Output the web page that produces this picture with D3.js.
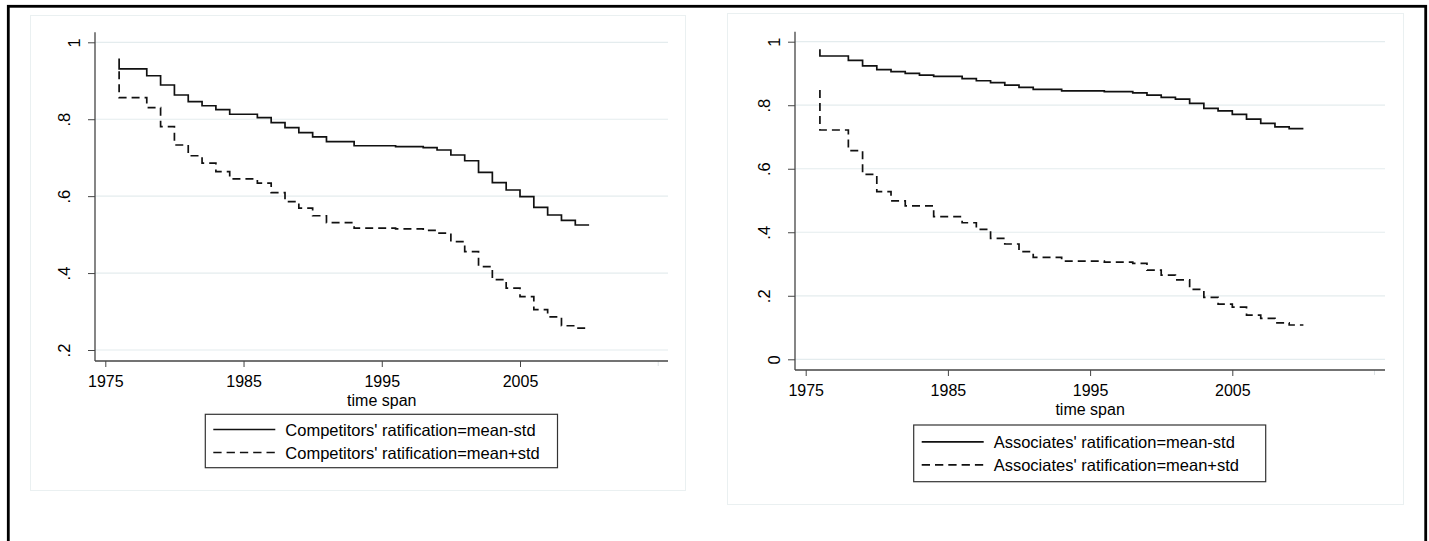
<!DOCTYPE html>
<html><head><meta charset="utf-8">
<script src="https://cdn.jsdelivr.net/npm/d3@7"></script>
<style>body{margin:0;background:#fff} text{font-family:"Liberation Sans",Arial,Helvetica,sans-serif}</style>
</head><body><svg id="c" width="1429" height="541"></svg>
<script>
// ---- data ----
const years = [1976,1976,1978,1979,1980,1981,1982,1983,1984,1986,1987,1988,1989,1990,1991,1993,1996,1998,1999,2000,2001,2002,2003,2004,2005,2006,2007,2008,2009,2010];
const compLow  = [0.958,0.931,0.913,0.889,0.863,0.846,0.835,0.825,0.813,0.804,0.791,0.778,0.765,0.754,0.742,0.731,0.729,0.726,0.720,0.707,0.692,0.662,0.635,0.616,0.599,0.571,0.551,0.537,0.525,0.525];
const compHigh = [0.925,0.856,0.830,0.781,0.733,0.705,0.686,0.664,0.645,0.634,0.609,0.586,0.569,0.549,0.531,0.517,0.515,0.511,0.504,0.482,0.456,0.417,0.383,0.361,0.339,0.305,0.286,0.263,0.257,0.257];
const assocLow = [0.976,0.955,0.941,0.924,0.912,0.906,0.900,0.895,0.891,0.884,0.877,0.871,0.863,0.856,0.850,0.845,0.843,0.839,0.832,0.825,0.819,0.806,0.790,0.782,0.771,0.756,0.743,0.732,0.726,0.726];
const assocHigh= [0.848,0.722,0.657,0.582,0.528,0.499,0.483,0.483,0.449,0.430,0.409,0.381,0.363,0.339,0.321,0.309,0.306,0.302,0.281,0.265,0.250,0.220,0.195,0.174,0.164,0.139,0.129,0.115,0.108,0.108];
const xTicks = [1975,1985,1995,2005];
const xMinorTicks = [2015];
const leftYTicks = [0.2,0.4,0.6,0.8,1];
const rightYTicks = [0,0.2,0.4,0.6,0.8,1];
const xTitle = "time span";
const leftLegend = ["Competitors' ratification=mean-std","Competitors' ratification=mean+std"];
const rightLegend = ["Associates' ratification=mean-std","Associates' ratification=mean+std"];

// ---- layout ----
const svg = d3.select("#c");
const FS = 16.5;
const TFS = 16;
const GRID = "#e4ecee";
const AXC = "#444";

svg.append("rect").attr("x",8.3).attr("y",6.3).attr("width",1417.4).attr("height",600)
  .attr("fill","none").attr("stroke","#000").attr("stroke-width",2.8);

const panels = [
  {box:[30,15,685,490], px:[95,668], py:[32.3,361], xr:[105.3,520], yr:[350,42.3], yd:[0.2,1],
   yTicks:leftYTicks, low:compLow, high:compHigh, legend:leftLegend, lg:{x:205.3,y:414.3,w:352.2,h:53.4},
   lblOff:25.5, titleOff:44.5},
  {box:[727,13,1403,504], px:[795,1385], py:[31.7,370], xr:[805.7,1232.3], yr:[359.3,41.7], yd:[0,1],
   yTicks:rightYTicks, low:assocLow, high:assocHigh, legend:rightLegend, lg:{x:913.7,y:425,w:352,h:56.7},
   lblOff:26, titleOff:45}
];

const fmt = d => d===0 ? "0" : d===1 ? "1" : String(+d.toFixed(1)).replace(/^0\./,".");

panels.forEach(p => {
  const g = svg.append("g");
  g.append("rect").attr("x",p.box[0]+0.5).attr("y",p.box[1]+0.5)
    .attr("width",p.box[2]-p.box[0]).attr("height",p.box[3]-p.box[1])
    .attr("fill","#fff").attr("stroke","#eaf0f1").attr("stroke-width",1);

  const x = d3.scaleLinear().domain([1975,2005]).range(p.xr);
  const y = d3.scaleLinear().domain(p.yd).range(p.yr);

  // gridlines
  g.selectAll(".grid").data(p.yTicks).join("line")
    .attr("x1",p.px[0]).attr("x2",p.px[1])
    .attr("y1",d=>y(d)).attr("y2",d=>y(d))
    .attr("stroke",GRID).attr("stroke-width",1.2);

  // y axis
  const ya = d3.axisLeft(y).tickValues(p.yTicks).tickSize(7).tickPadding(0).tickFormat(fmt);
  const yg = g.append("g").attr("transform",`translate(${p.px[0]},0)`).call(ya);
  yg.select(".domain").remove();
  yg.selectAll(".tick line").attr("stroke",AXC).attr("stroke-width",1);
  yg.selectAll(".tick text")
    .attr("font-size",FS).attr("fill","#000")
    .attr("text-anchor","middle")
    .attr("x",0).attr("y",0).attr("dy",null)
    .attr("transform",d=>`translate(${fmt(d).length>1?-25:-15},0) rotate(-90)`);
  g.append("line").attr("x1",p.px[0]).attr("x2",p.px[0]).attr("y1",p.py[0]).attr("y2",p.py[1])
    .attr("stroke",AXC).attr("stroke-width",1.3);

  // x axis
  const xa = d3.axisBottom(x).tickValues(xTicks).tickSize(6).tickPadding(0).tickFormat(d3.format("d"));
  const xg = g.append("g").attr("transform",`translate(0,${p.py[1]})`).call(xa);
  xg.select(".domain").remove();
  xg.selectAll(".tick line").attr("stroke",AXC).attr("stroke-width",1);
  xg.selectAll(".tick text").attr("font-size",TFS).attr("fill","#000").attr("dy",null).attr("y",p.lblOff);
  g.selectAll(".minor").data(xMinorTicks).join("line")
    .attr("x1",d=>x(d)).attr("x2",d=>x(d)).attr("y1",p.py[1]).attr("y2",p.py[1]+5)
    .attr("stroke","#dde3e5").attr("stroke-width",1);
  g.append("line").attr("x1",p.px[0]).attr("x2",p.px[1]).attr("y1",p.py[1]).attr("y2",p.py[1])
    .attr("stroke",AXC).attr("stroke-width",1.3);
  g.append("text").attr("x",(x(1995))).attr("y",p.py[1]+p.titleOff)
    .attr("text-anchor","middle").attr("font-size",TFS).text(xTitle);

  // curves
  const line = d3.line().x((d,i)=>x(years[i])).y(d=>y(d)).curve(d3.curveStepAfter);
  g.append("path").attr("d",line(p.low)).attr("fill","none").attr("stroke","#111").attr("stroke-width",1.7);
  g.append("path").attr("d",line(p.high)).attr("fill","none").attr("stroke","#111").attr("stroke-width",1.7)
    .attr("stroke-dasharray","8,5");

  // legend
  const L = p.lg;
  g.append("rect").attr("x",L.x).attr("y",L.y).attr("width",L.w).attr("height",L.h)
    .attr("fill","#fff").attr("stroke","#333").attr("stroke-width",1.2);
  const mid = L.y + L.h/2;
  p.legend.forEach((t,i)=>{
    const ry = mid + (i===0?-11.5:11.5);
    g.append("line").attr("x1",L.x+8).attr("x2",L.x+70).attr("y1",ry).attr("y2",ry)
      .attr("stroke","#111").attr("stroke-width",1.7).attr("stroke-dasharray",i===0?null:"8.3,5");
    g.append("text").attr("x",L.x+80).attr("y",ry+6).attr("font-size",FS).text(t);
  });
});
</script></body></html>
